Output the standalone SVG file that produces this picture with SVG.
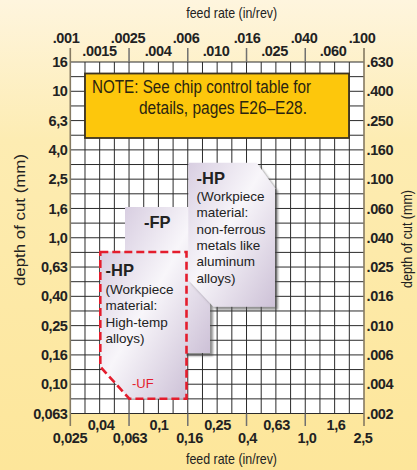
<svg xmlns="http://www.w3.org/2000/svg" width="417" height="470" viewBox="0 0 417 470">
<defs>
<linearGradient id="bg" x1="0" y1="0" x2="0" y2="1">
<stop offset="0" stop-color="#fef5de"/>
<stop offset="0.3" stop-color="#fdecb2"/>
<stop offset="1" stop-color="#fde69a"/>
</linearGradient>
<linearGradient id="reg" x1="0" y1="0" x2="1" y2="1">
<stop offset="0" stop-color="#d8cee1"/>
<stop offset="0.45" stop-color="#f8f6fa"/>
<stop offset="1" stop-color="#cdc1d7"/>
</linearGradient>
<filter id="sh" x="-10%" y="-10%" width="130%" height="130%">
<feDropShadow dx="3" dy="3" stdDeviation="1.2" flood-color="#4a4a4a" flood-opacity="0.6"/>
</filter>
<style>
.ax{font-family:"Liberation Sans",Arial,sans-serif;font-size:14.5px;font-weight:bold;fill:#222;letter-spacing:-0.4px}
.ttl{font-family:"Liberation Sans",Arial,sans-serif;font-size:14.5px;fill:#222}
.rt{font-family:"Liberation Sans",Arial,sans-serif;font-size:13.5px;fill:#222}
.rh{font-family:"Liberation Sans",Arial,sans-serif;font-size:16.5px;font-weight:bold;fill:#222}
.note{font-family:"Liberation Sans",Arial,sans-serif;font-size:17.5px;fill:#2a2410}
.grid{stroke:#2b2b2b;stroke-width:1;fill:none}
.tick{stroke:#707070;stroke-width:1.5;fill:none}
.axis{stroke:#857a62;stroke-width:1.6;fill:none}
</style>
</defs>
<rect x="0" y="0" width="417" height="470" fill="url(#bg)"/>

<g id="grid">
<rect x="70.3" y="62" width="293.7" height="351.5" fill="#ffffff"/>
<path class="grid" d="M84.99 62V413.5M99.67 62V413.5M114.36 62V413.5M129.04 62V413.5M143.73 62V413.5M158.41 62V413.5M173.1 62V413.5M187.78 62V413.5M202.47 62V413.5M217.15 62V413.5M231.84 62V413.5M246.52 62V413.5M261.21 62V413.5M275.89 62V413.5M290.58 62V413.5M305.26 62V413.5M319.95 62V413.5M334.63 62V413.5M349.32 62V413.5"/>
<path class="grid" d="M70.3 62H364M70.3 76.65H364M70.3 91.29H364M70.3 105.94H364M70.3 120.58H364M70.3 135.23H364M70.3 149.88H364M70.3 164.52H364M70.3 179.17H364M70.3 193.81H364M70.3 208.46H364M70.3 223.11H364M70.3 237.75H364M70.3 252.4H364M70.3 267.04H364M70.3 281.69H364M70.3 296.34H364M70.3 310.98H364M70.3 325.63H364M70.3 340.27H364M70.3 354.92H364M70.3 369.57H364M70.3 384.21H364M70.3 398.86H364M70.3 413.5H364"/>
<path class="tick" d="M129.04 48V62M187.78 48V62M246.52 48V62M305.26 48V62M129.04 413.5V426M187.78 413.5V426M246.52 413.5V426M305.26 413.5V426"/>
<path class="axis" d="M70.3 48V426M364 48V426"/>
</g>

<g id="axis-labels">
<text class="ttl" x="231.7" y="17.5" text-anchor="middle" textLength="91" lengthAdjust="spacingAndGlyphs">feed rate (in/rev)</text>
<text class="ttl" x="231.5" y="463.5" text-anchor="middle" textLength="91" lengthAdjust="spacingAndGlyphs">feed rate (in/rev)</text>
<text class="ttl" transform="translate(25,220) rotate(-90)" text-anchor="middle" textLength="132" lengthAdjust="spacingAndGlyphs">depth of cut (mm)</text>
<text class="ttl" transform="translate(412,239) rotate(-90)" text-anchor="middle" textLength="98" lengthAdjust="spacingAndGlyphs">depth of cut (mm)</text>

<g class="ax" text-anchor="middle">
<text x="66" y="42.5">.001</text>
<text x="128" y="42.5">.0025</text>
<text x="186" y="42.5">.006</text>
<text x="247" y="42.5">.016</text>
<text x="304" y="42.5">.040</text>
<text x="362" y="42.5">.100</text>
<text x="99.5" y="56">.0015</text>
<text x="158" y="56">.004</text>
<text x="216" y="56">.010</text>
<text x="274.5" y="56">.025</text>
<text x="333" y="56">.060</text>

<text x="101" y="430">0,04</text>
<text x="159" y="430">0,1</text>
<text x="217.5" y="430">0,25</text>
<text x="276.5" y="430">0,63</text>
<text x="336" y="430">1,6</text>
<text x="70" y="443">0,025</text>
<text x="130" y="443">0,063</text>
<text x="189.5" y="443">0,16</text>
<text x="247.5" y="443">0,4</text>
<text x="307" y="443">1,0</text>
<text x="363" y="443">2,5</text>
</g>

<g class="ax" text-anchor="end">
<text x="67.5" y="67">16</text>
<text x="67.5" y="96.3">10</text>
<text x="67.5" y="125.6">6,3</text>
<text x="67.5" y="154.9">4,0</text>
<text x="67.5" y="184.2">2,5</text>
<text x="67.5" y="213.5">1,6</text>
<text x="67.5" y="242.8">1,0</text>
<text x="67.5" y="272">0,63</text>
<text x="67.5" y="301.3">0,40</text>
<text x="67.5" y="330.6">0,25</text>
<text x="67.5" y="359.9">0,16</text>
<text x="67.5" y="389.2">0,10</text>
<text x="67.5" y="418.5">0,063</text>
</g>

<g class="ax" text-anchor="start">
<text x="366.5" y="67">.630</text>
<text x="366.5" y="96.3">.400</text>
<text x="366.5" y="125.6">.250</text>
<text x="366.5" y="154.9">.160</text>
<text x="366.5" y="184.2">.100</text>
<text x="366.5" y="213.5">.060</text>
<text x="366.5" y="242.8">.040</text>
<text x="366.5" y="272">.025</text>
<text x="366.5" y="301.3">.016</text>
<text x="366.5" y="330.6">.010</text>
<text x="366.5" y="359.9">.006</text>
<text x="366.5" y="389.2">.004</text>
<text x="366.5" y="418.5">.002</text>
</g>
</g>

<g id="note">
<rect x="85" y="73.5" width="264" height="64.5" fill="#fdc70c" stroke="#3d3320" stroke-width="1.8"/>
<text class="note" x="92" y="93" textLength="219" lengthAdjust="spacingAndGlyphs">NOTE: See chip control table for</text>
<text class="note" x="139" y="114" textLength="168" lengthAdjust="spacingAndGlyphs">details, pages E26–E28.</text>
</g>

<g id="fp">
<rect x="125" y="207" width="85" height="146" fill="url(#reg)" filter="url(#sh)"/>
<text class="rh" x="144" y="228">-FP</text>
</g>

<g id="hp-nonferrous">
<path d="M188.3 162.7H256.7L275 188.3V306.7H213.3L188.3 280Z" fill="url(#reg)" filter="url(#sh)"/>
<text class="rh" x="196.5" y="184">-HP</text>
<g class="rt">
<text x="196.5" y="201">(Workpiece</text>
<text x="196.5" y="217.3">material:</text>
<text x="196.5" y="233.6">non-ferrous</text>
<text x="196.5" y="249.9">metals like</text>
<text x="196.5" y="266.2">aluminum</text>
<text x="196.5" y="282.5">alloys)</text>
</g>
</g>

<g id="hp-hightemp">
<path d="M100.3 252H186.5V398.7H129.3L100.3 366.7Z" fill="url(#reg)" stroke="#e41d2d" stroke-width="2.6" stroke-dasharray="8 4"/>
<text class="rh" x="105.5" y="276">-HP</text>
<g class="rt">
<text x="105.5" y="293.5">(Workpiece</text>
<text x="105.5" y="310">material:</text>
<text x="105.5" y="326.5">High-temp</text>
<text x="105.5" y="343">alloys)</text>
</g>
<text x="132" y="388" font-family="'Liberation Sans',Arial,sans-serif" font-size="13" fill="#e41d2d">-UF</text>
</g>
</svg>
